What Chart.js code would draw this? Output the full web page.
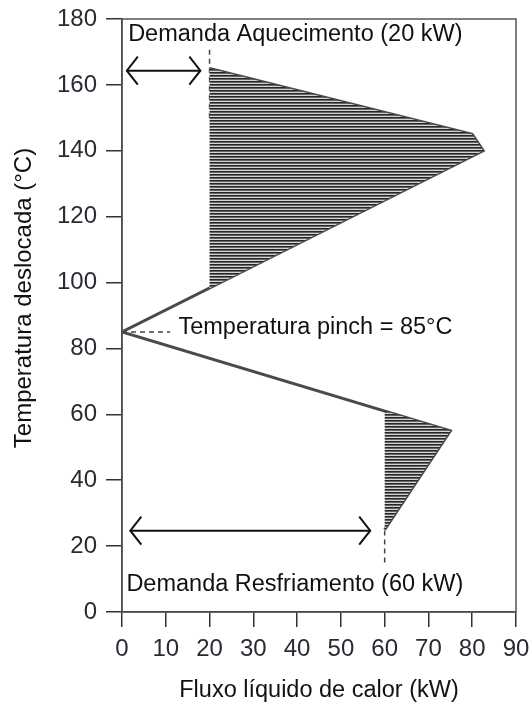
<!DOCTYPE html>
<html>
<head>
<meta charset="utf-8">
<script src="https://cdn.jsdelivr.net/npm/chart.js@4/dist/chart.umd.min.js"></script>
<style>
  html, body { margin: 0; padding: 0; background: #fff; }
  canvas { display: block; }
</style>
</head>
<body>
<canvas id="gcc" width="531" height="705"></canvas>
<script>
// grand composite curve: net heat flow (kW) vs shifted temperature (°C)
const curveQ = [20, 80, 82.5, 0, 75, 60];
const curveT = [165, 145, 140, 85, 55, 25];

// pockets filled by hot/cold utility
const upperQ = [20, 80, 82.5, 20];
const upperT = [165, 145, 140, 98.3];
const lowerQ = [60, 75, 60];
const lowerT = [61, 55, 25];

const hotUtility = 20;   // kW
const coldUtility = 60;  // kW
const pinchT = 85;       // °C

const xTicks = [0, 10, 20, 30, 40, 50, 60, 70, 80, 90];
const yTicks = [0, 20, 40, 60, 80, 100, 120, 140, 160, 180];

const FONT = "'Liberation Sans', Arial, sans-serif";

function zip(xs, ys) {
    return xs.map((x, i) => ({ x: x, y: ys[i] }));
}

// horizontal line hatching
function hatchPattern() {
    const c = document.createElement("canvas");
    c.width = 4;
    c.height = 3;
    const g = c.getContext("2d");
    g.fillStyle = "#d4d4d4";
    g.fillRect(0, 0, 4, 3);
    g.fillStyle = "#262626";
    g.fillRect(0, 0, 4, 1);
    g.fillStyle = "#656565";
    g.fillRect(0, 1, 4, 1);
    return g.createPattern(c, "repeat");
}
const hatch = hatchPattern();

const dashed = { borderColor: "#444", borderWidth: 1.5, borderDash: [5, 4], pointRadius: 0, showLine: true, fill: false };

const datasets = [
    { data: zip(upperQ, upperT), showLine: true, fill: "shape", backgroundColor: hatch, borderWidth: 0, pointRadius: 0 },
    { data: zip(lowerQ, lowerT), showLine: true, fill: "shape", backgroundColor: hatch, borderWidth: 0, pointRadius: 0 },
    Object.assign({ data: [{ x: hotUtility, y: 150 }, { x: hotUtility, y: 171 }] }, dashed),
    Object.assign({ data: [{ x: coldUtility, y: 15 }, { x: coldUtility, y: 25 }] }, dashed),
    Object.assign({ data: [{ x: 0, y: pinchT }, { x: 11, y: pinchT }] }, dashed),
    { data: zip(curveQ, curveT), showLine: true, fill: false, borderColor: "#4a4a4a", borderWidth: 3, pointRadius: 0, borderJoinStyle: "miter" },
    // double arrows spanning the utility demands
    { data: [{ x: 1.1, y: 164.3 }, { x: hotUtility - 2.1, y: 164.3 }], arrow: true, showLine: true, borderColor: "#111", borderWidth: 2, pointRadius: 0 },
    { data: [{ x: 1.9, y: 24.7 }, { x: coldUtility - 3.3, y: 24.7 }], arrow: true, showLine: true, borderColor: "#111", borderWidth: 2, pointRadius: 0 }
];

const notes = [
    { text: "Demanda Aquecimento (" + hotUtility + " kW)", x: 1.4, y: 175.2 },
    { text: "Temperatura pinch = " + pinchT + "°C", x: 12.9, y: 86.4 },
    { text: "Demanda Resfriamento (" + coldUtility + " kW)", x: 1.0, y: 8.2 }
];

const extras = {
    id: "extras",
    afterDatasetsDraw(chart) {
        const { ctx, chartArea: a, scales } = chart;
        ctx.save();
        // frame
        ctx.strokeStyle = "#555";
        ctx.lineWidth = 1.5;
        ctx.strokeRect(a.left, a.top, a.right - a.left, a.bottom - a.top);

        // arrow heads
        chart.data.datasets.forEach(ds => {
            if (!ds.arrow) return;
            const p0 = ds.data[0], p1 = ds.data[1];
            const x0 = scales.x.getPixelForValue(p0.x), x1 = scales.x.getPixelForValue(p1.x);
            const y = scales.y.getPixelForValue(p0.y);
            ctx.strokeStyle = ds.borderColor;
            ctx.lineWidth = 2;
            ctx.beginPath();
            ctx.moveTo(x0 + 11, y - 14); ctx.lineTo(x0, y); ctx.lineTo(x0 + 11, y + 14);
            ctx.moveTo(x1 - 11, y - 14); ctx.lineTo(x1, y); ctx.lineTo(x1 - 11, y + 14);
            ctx.stroke();
        });

        // notes
        ctx.fillStyle = "#111";
        ctx.font = "23.5px " + FONT;
        ctx.textBaseline = "middle";
        ctx.textAlign = "left";
        notes.forEach(n => {
            ctx.fillText(n.text, scales.x.getPixelForValue(n.x), scales.y.getPixelForValue(n.y));
        });

        // y axis title
        ctx.font = "24px " + FONT;
        ctx.translate(24, 298);
        ctx.rotate(-Math.PI / 2);
        ctx.textAlign = "center";
        ctx.fillText("Temperatura deslocada (°C)", 0, 0);
        ctx.restore();
    }
};

new Chart(document.getElementById("gcc"), {
    type: "scatter",
    data: { datasets: datasets },
    options: {
        responsive: false,
        animation: false,
        layout: { padding: { top: 19, right: 15, left: 0, bottom: 0 } },
        plugins: { legend: { display: false }, tooltip: { enabled: false } },
        scales: {
            x: {
                type: "linear",
                min: 0,
                max: 90,
                afterBuildTicks: s => { s.ticks = xTicks.map(v => ({ value: v })); },
                afterFit: s => { s.height = 93; s.paddingLeft = 0; s.paddingRight = 0; },
                ticks: { color: "#2a2a33", font: { family: FONT, size: 24 }, padding: 8, maxRotation: 0, autoSkip: false },
                grid: { drawOnChartArea: false, tickLength: 15, color: "#333", lineWidth: 1.5 },
                border: { color: "#333", width: 1.5 },
                title: { display: true, text: "Fluxo líquido de calor (kW)", color: "#111", font: { family: FONT, size: 23.5 }, padding: { top: 1, bottom: 0 } }
            },
            y: {
                type: "linear",
                min: 0,
                max: 180,
                afterBuildTicks: s => { s.ticks = yTicks.map(v => ({ value: v })); },
                afterFit: s => { s.width = 122; s.paddingTop = 0; s.paddingBottom = 0; },
                ticks: { color: "#2a2a33", font: { family: FONT, size: 24 }, padding: 9, autoSkip: false },
                grid: { drawOnChartArea: false, tickLength: 16, color: "#333", lineWidth: 1.5 },
                border: { color: "#333", width: 1.5 }
            }
        }
    },
    plugins: [extras]
});
</script>
</body>
</html>
